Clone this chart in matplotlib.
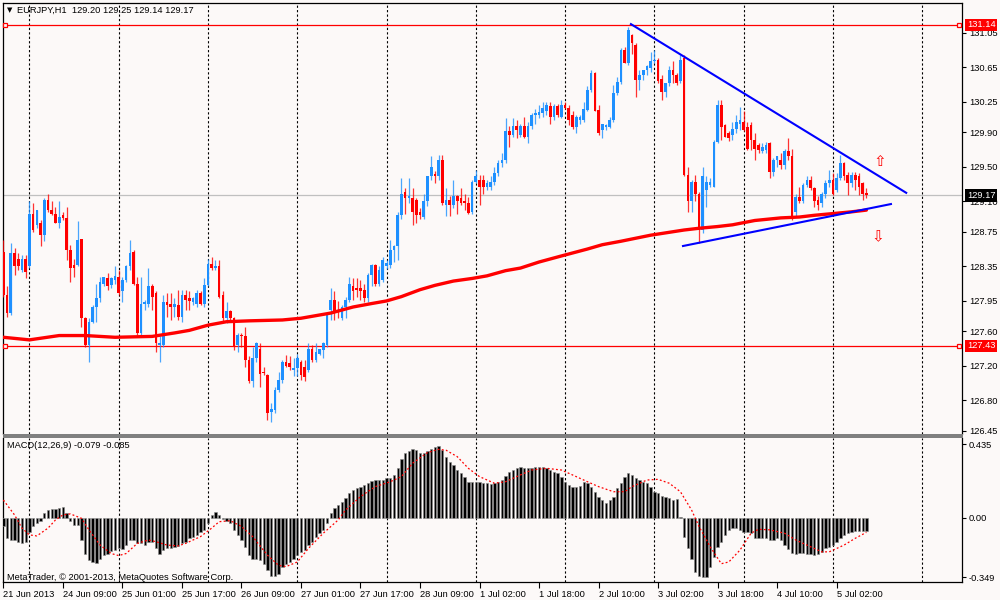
import numpy as np
import matplotlib
matplotlib.use("Agg")
import matplotlib.pyplot as plt
import matplotlib.transforms as mtransforms
from matplotlib.patches import Rectangle

plt.rcParams['font.family'] = ['Liberation Sans', 'DejaVu Sans']

# EURJPY H1 candles (bar index 0 = 21 Jun 17:00)
opens = [
    128.52, 128.02, 127.81, 128.50, 128.44, 128.31, 128.44, 128.35, 128.96, 128.83,
    128.85, 128.71, 129.12, 129.00, 128.96, 128.85, 128.94, 128.91, 128.54, 128.37,
    128.37, 128.67, 127.75, 127.44, 127.71, 127.88, 127.98, 128.15, 128.21, 128.13,
    128.19, 128.23, 128.06, 128.19, 128.35, 128.52, 128.15, 127.58, 127.92, 127.92,
    128.12, 128.04, 127.44, 127.44, 127.94, 127.92, 127.88, 127.90, 127.77, 128.02,
    127.98, 127.94, 127.92, 128.04, 127.92, 128.13, 128.38, 128.33, 128.35, 128.02,
    127.75, 127.83, 127.75, 127.44, 127.56, 127.54, 127.27, 127.02, 127.29, 127.40,
    127.13, 127.09, 126.67, 126.69, 126.92, 127.04, 127.24, 127.23, 127.15, 127.17,
    127.25, 127.19, 127.15, 127.40, 127.27, 127.34, 127.38, 127.44, 127.84, 127.96,
    127.85, 127.75, 127.88, 127.96, 128.12, 128.10, 128.10, 128.08, 127.98, 128.25,
    128.36, 128.15, 128.19, 128.35, 128.37, 128.54, 128.58, 128.94, 129.21, 129.14,
    129.14, 129.12, 128.98, 128.92, 129.10, 129.39, 129.42, 129.39, 129.58, 129.06,
    129.12, 129.06, 129.16, 129.14, 129.10, 129.08, 128.98, 129.33, 129.35, 129.35,
    129.27, 129.27, 129.33, 129.43, 129.54, 129.58, 129.91, 129.87, 129.97, 129.87,
    129.97, 129.85, 129.97, 130.10, 130.10, 130.12, 130.14, 130.20, 130.08, 130.20,
    130.08, 130.21, 130.18, 130.10, 129.96, 130.04, 130.04, 130.16, 130.39, 130.58,
    130.16, 129.93, 129.96, 129.96, 130.04, 130.35, 130.48, 130.85, 130.70, 131.02,
    130.91, 130.50, 130.56, 130.62, 130.64, 130.72, 130.74, 130.52, 130.37, 130.47,
    130.62, 130.56, 130.49, 130.76, 129.41, 129.10, 129.33, 129.19, 128.77, 129.23,
    129.29, 129.27, 129.79, 130.21, 129.98, 129.89, 129.87, 129.94, 130.00, 130.02,
    129.96, 129.98, 129.81, 129.75, 129.68, 129.70, 129.77, 129.44, 129.58, 129.58,
    129.52, 129.68, 129.62, 128.98, 129.15, 129.10, 129.29, 129.35, 129.25, 129.12,
    129.08, 129.19, 129.31, 129.35, 129.23, 129.37, 129.54, 129.41, 129.31, 129.41,
    129.39, 129.31, 129.20,
]
highs = [
    128.66, 128.12, 128.62, 128.56, 128.50, 128.48, 128.48, 129.10, 129.08, 129.00,
    128.89, 129.14, 129.19, 129.10, 129.04, 129.10, 128.98, 129.04, 128.60, 128.44,
    128.87, 128.67, 127.77, 127.75, 127.90, 128.15, 128.23, 128.23, 128.27, 128.23,
    128.35, 128.31, 128.23, 128.37, 128.66, 128.54, 128.23, 128.23, 127.96, 128.33,
    128.15, 128.06, 127.54, 128.02, 128.04, 128.04, 127.98, 128.08, 128.08, 128.08,
    128.06, 128.00, 128.08, 128.06, 128.21, 128.44, 128.46, 128.42, 128.42, 128.06,
    127.94, 127.85, 127.77, 127.58, 127.58, 127.65, 127.31, 127.42, 127.48, 127.46,
    127.19, 127.11, 126.77, 126.96, 127.13, 127.27, 127.32, 127.31, 127.29, 127.34,
    127.27, 127.27, 127.46, 127.44, 127.46, 127.40, 127.48, 127.81, 128.10, 128.06,
    127.95, 127.90, 128.00, 128.23, 128.21, 128.21, 128.19, 128.15, 128.27, 128.38,
    128.38, 128.35, 128.46, 128.42, 128.65, 128.60, 128.98, 129.37, 129.25, 129.37,
    129.25, 129.14, 129.02, 129.19, 129.40, 129.62, 129.45, 129.64, 129.64, 129.25,
    129.16, 129.35, 129.18, 129.25, 129.19, 129.15, 129.35, 129.46, 129.41, 129.41,
    129.35, 129.39, 129.50, 129.58, 129.66, 130.06, 129.97, 130.06, 130.04, 130.00,
    130.08, 130.02, 130.12, 130.17, 130.21, 130.25, 130.25, 130.25, 130.23, 130.23,
    130.27, 130.25, 130.21, 130.14, 130.10, 130.10, 130.25, 130.43, 130.62, 130.60,
    130.21, 130.00, 129.99, 130.08, 130.45, 130.54, 130.87, 130.89, 131.12, 131.04,
    130.93, 130.62, 130.62, 130.68, 130.83, 130.85, 130.76, 130.56, 130.47, 130.66,
    130.72, 130.58, 130.79, 130.79, 129.50, 129.35, 129.41, 129.21, 129.50, 129.39,
    129.37, 129.81, 130.27, 130.27, 130.00, 129.91, 130.02, 130.10, 130.19, 130.14,
    130.02, 130.02, 129.89, 129.78, 129.77, 129.79, 129.79, 129.60, 129.62, 129.66,
    129.71, 129.83, 129.71, 129.19, 129.27, 129.31, 129.39, 129.39, 129.27, 129.16,
    129.21, 129.35, 129.46, 129.43, 129.43, 129.64, 129.56, 129.44, 129.44, 129.44,
    129.43, 129.33, 129.25,
]
lows = [
    128.00, 127.77, 127.79, 128.25, 128.31, 128.29, 128.21, 128.33, 128.75, 128.79,
    128.58, 128.64, 128.98, 128.94, 128.85, 128.79, 128.89, 128.42, 128.17, 128.23,
    128.35, 127.65, 127.42, 127.25, 127.69, 127.71, 127.94, 128.12, 128.08, 128.10,
    128.15, 128.02, 127.94, 128.17, 128.31, 128.14, 127.56, 127.56, 127.85, 127.88,
    127.85, 127.36, 127.25, 127.42, 127.77, 127.73, 127.77, 127.73, 127.71, 127.85,
    127.85, 127.90, 127.88, 127.90, 127.88, 128.12, 128.31, 128.31, 127.98, 127.71,
    127.69, 127.73, 127.38, 127.36, 127.42, 127.19, 127.00, 126.96, 127.25, 126.96,
    127.09, 126.57, 126.55, 126.65, 126.90, 127.00, 127.19, 127.15, 127.08, 127.08,
    127.04, 127.02, 127.13, 127.25, 127.25, 127.33, 127.29, 127.42, 127.73, 127.73,
    127.75, 127.73, 127.75, 127.94, 127.96, 128.00, 127.96, 127.94, 127.94, 128.12,
    128.12, 128.12, 128.17, 128.32, 128.33, 128.40, 128.42, 128.90, 128.96, 129.08,
    128.83, 128.85, 128.90, 128.90, 129.05, 129.35, 129.31, 129.35, 129.06, 128.93,
    128.93, 129.02, 128.96, 129.06, 129.00, 128.96, 128.96, 129.31, 129.06, 129.19,
    129.23, 129.23, 129.29, 129.39, 129.50, 129.54, 129.73, 129.85, 129.83, 129.85,
    129.83, 129.77, 129.94, 130.00, 130.06, 130.08, 130.10, 130.00, 130.04, 130.08,
    130.06, 130.17, 129.98, 129.94, 129.89, 130.00, 130.02, 130.14, 130.37, 130.14,
    129.87, 129.83, 129.93, 129.95, 130.02, 130.33, 130.46, 130.70, 130.68, 130.81,
    130.31, 130.39, 130.50, 130.56, 130.60, 130.70, 130.47, 130.27, 130.31, 130.43,
    130.47, 130.45, 130.47, 129.39, 128.98, 128.98, 129.10, 128.62, 128.73, 129.04,
    129.27, 129.27, 129.77, 129.81, 129.85, 129.80, 129.81, 129.89, 129.93, 129.91,
    129.70, 129.70, 129.58, 129.66, 129.66, 129.66, 129.37, 129.39, 129.50, 129.48,
    129.48, 129.58, 128.89, 128.92, 129.08, 129.08, 129.27, 129.23, 129.04, 129.00,
    129.04, 129.14, 129.27, 129.17, 129.21, 129.35, 129.35, 129.17, 129.27, 129.23,
    129.17, 129.12, 129.14,
]
closes = [
    128.02, 127.81, 128.50, 128.35, 128.35, 128.44, 128.29, 128.96, 128.77, 129.00,
    128.71, 129.12, 129.00, 128.96, 128.85, 128.92, 128.91, 128.54, 128.33, 128.33,
    128.66, 127.75, 127.44, 127.71, 127.88, 127.98, 128.17, 128.23, 128.12, 128.21,
    128.24, 128.04, 128.19, 128.35, 128.50, 128.15, 127.58, 127.92, 127.94, 128.12,
    128.00, 127.46, 127.46, 127.94, 127.90, 127.88, 127.92, 127.77, 128.02, 127.96,
    127.95, 127.98, 128.04, 127.92, 128.13, 128.38, 128.33, 128.35, 128.00, 127.75,
    127.83, 127.75, 127.42, 127.56, 127.54, 127.27, 127.02, 127.29, 127.46, 127.11,
    127.12, 126.65, 126.70, 126.92, 127.04, 127.25, 127.20, 127.19, 127.17, 127.29,
    127.09, 127.07, 127.40, 127.27, 127.36, 127.39, 127.46, 127.81, 127.96, 127.83,
    127.82, 127.88, 127.96, 128.15, 128.06, 128.08, 128.06, 127.98, 128.25, 128.37,
    128.15, 128.31, 128.42, 128.39, 128.54, 128.58, 128.94, 129.19, 129.14, 129.16,
    128.98, 128.94, 128.94, 129.10, 129.39, 129.50, 129.39, 129.58, 129.08, 129.12,
    129.06, 129.16, 129.10, 129.08, 129.08, 128.97, 129.33, 129.39, 129.27, 129.27,
    129.31, 129.33, 129.43, 129.54, 129.58, 129.91, 129.87, 129.97, 129.93, 129.97,
    129.85, 129.97, 130.10, 130.12, 130.13, 130.18, 130.21, 130.08, 130.20, 130.10,
    130.21, 130.18, 130.04, 129.96, 130.08, 130.08, 130.17, 130.39, 130.58, 130.14,
    129.89, 130.00, 129.98, 130.04, 130.35, 130.48, 130.85, 130.70, 131.08, 130.93,
    130.50, 130.56, 130.62, 130.66, 130.72, 130.74, 130.49, 130.37, 130.47, 130.62,
    130.56, 130.47, 130.74, 129.41, 129.10, 129.33, 129.19, 128.77, 129.39, 129.33,
    129.33, 129.79, 130.21, 129.96, 129.85, 129.83, 129.94, 130.02, 130.04, 129.93,
    129.71, 129.81, 129.71, 129.70, 129.73, 129.75, 129.44, 129.58, 129.62, 129.52,
    129.68, 129.62, 128.92, 129.15, 129.10, 129.29, 129.35, 129.25, 129.10, 129.06,
    129.19, 129.31, 129.35, 129.19, 129.37, 129.54, 129.39, 129.31, 129.41, 129.35,
    129.27, 129.19, 129.17,
]

# moving average (thick red), sampled along the chart
ma_idx = [0, 7, 15, 22, 30, 40, 46, 50, 55, 60, 66, 75, 80, 84, 88, 94, 99, 103, 107,
          112, 116, 121, 126, 130, 135, 139, 144, 150, 157, 161, 166, 174, 183, 187,
          192, 196, 202, 209, 214, 218, 223, 228, 232]
ma_val = [127.53, 127.50, 127.55, 127.55, 127.53, 127.54, 127.58, 127.61, 127.67, 127.71,
          127.72, 127.73, 127.75, 127.78, 127.81, 127.88, 127.92, 127.95, 128.00, 128.08,
          128.13, 128.18, 128.21, 128.24, 128.30, 128.33, 128.40, 128.47, 128.55, 128.60,
          128.64, 128.71, 128.77, 128.79, 128.81, 128.83, 128.88, 128.91, 128.92, 128.94,
          128.96, 128.98, 129.00]

# MACD(12,26,9) main histogram per bar
macd_main = [
    -0.05, -0.12, -0.13, -0.13, -0.14, -0.145, -0.14, -0.08, -0.05, -0.03,
    -0.02, 0.03, 0.047, 0.053, 0.053, 0.059, 0.065, 0.028, -0.02, -0.04,
    -0.04, -0.13, -0.21, -0.25, -0.26, -0.264, -0.24, -0.22, -0.21, -0.195,
    -0.19, -0.18, -0.185, -0.16, -0.13, -0.13, -0.15, -0.15, -0.16, -0.14,
    -0.14, -0.18, -0.215, -0.19, -0.18, -0.18, -0.173, -0.165, -0.15, -0.14,
    -0.12, -0.11, -0.10, -0.08, -0.07, -0.03, 0.018, 0.035, 0.018, -0.008,
    -0.016, -0.03, -0.07, -0.10, -0.13, -0.17, -0.22, -0.24, -0.24, -0.25,
    -0.27, -0.31, -0.34, -0.34, -0.33, -0.29, -0.27, -0.26, -0.24, -0.22,
    -0.20, -0.19, -0.16, -0.14, -0.11, -0.09, -0.07, -0.03, 0.028, 0.061,
    0.077, 0.092, 0.116, 0.146, 0.165, 0.175, 0.185, 0.195, 0.205, 0.22,
    0.224, 0.224, 0.224, 0.234, 0.234, 0.254, 0.293, 0.346, 0.382, 0.396,
    0.405, 0.40, 0.386, 0.386, 0.397, 0.405, 0.417, 0.425, 0.40, 0.362,
    0.329, 0.313, 0.283, 0.264, 0.244, 0.214, 0.214, 0.21, 0.21, 0.209,
    0.205, 0.199, 0.205, 0.21, 0.224, 0.248, 0.274, 0.283, 0.297, 0.299,
    0.293, 0.293, 0.293, 0.299, 0.299, 0.299, 0.293, 0.283, 0.274, 0.264,
    0.244, 0.214, 0.195, 0.181, 0.181, 0.189, 0.214, 0.205, 0.185, 0.155,
    0.126, 0.106, 0.09, 0.106, 0.126, 0.175, 0.205, 0.244, 0.268, 0.254,
    0.234, 0.224, 0.214, 0.205, 0.185, 0.155, 0.146, 0.13, 0.126, 0.116,
    0.106, 0.11, 0.003, -0.11, -0.18, -0.24, -0.32, -0.34, -0.346, -0.346,
    -0.29, -0.23, -0.17, -0.14, -0.10, -0.07, -0.06, -0.06, -0.07, -0.08,
    -0.08, -0.09, -0.12, -0.12, -0.12, -0.12, -0.13, -0.13, -0.12, -0.13,
    -0.16, -0.185, -0.205, -0.21, -0.205, -0.205, -0.21, -0.215, -0.218, -0.21,
    -0.20, -0.18, -0.17, -0.16, -0.14, -0.12, -0.10, -0.09, -0.08, -0.077,
    -0.077, -0.075, -0.079,
]
# signal line (red dotted), sampled
sig_idx = [0, 3, 5, 7, 9, 12, 14, 16, 18, 21, 23, 26, 29, 31, 33, 36, 39, 41, 44, 47,
           49, 53, 56, 58, 61, 64, 67, 71, 74, 76, 79, 82, 86, 90, 92, 96, 100, 104,
           107, 110, 114, 117, 119, 122, 125, 128, 132, 135, 139, 142, 146, 150, 153,
           157, 160, 164, 167, 169, 173, 176, 179, 182, 185, 187, 190, 193, 195, 198,
           201, 203, 206, 210, 213, 217, 220, 222, 226, 229, 232]
sig_val = [0.106, 0.018, -0.06, -0.10, -0.106, -0.06, -0.012, 0.018, 0.024, -0.002,
           -0.07, -0.16, -0.21, -0.222, -0.21, -0.15, -0.13, -0.14, -0.16, -0.165,
           -0.15, -0.11, -0.06, -0.022, -0.016, -0.05, -0.11, -0.22, -0.28, -0.287,
           -0.26, -0.18, -0.09, -0.012, 0.047, 0.126, 0.185, 0.214, 0.244, 0.323,
           0.386, 0.405, 0.40, 0.362, 0.293, 0.244, 0.205, 0.214, 0.254, 0.283,
           0.293, 0.283, 0.254, 0.214, 0.185, 0.155, 0.155, 0.185, 0.224, 0.228,
           0.205, 0.155, 0.047, -0.05, -0.17, -0.27, -0.26, -0.19, -0.09, -0.067,
           -0.07, -0.09, -0.13, -0.17, -0.20, -0.20, -0.16, -0.12, -0.085]

# triangle drawn on the chart (bar index, price)
upper_line_x = [168.7, 242.7]
upper_line_y = [131.15, 129.20]
lower_line_x = [182.7, 238.6]
lower_line_y = [128.585, 129.07]

level_hi = 131.14
level_lo = 127.43
bid = 129.17

price_ticks = [131.05, 130.65, 130.25, 129.90, 129.50, 129.10, 128.75,
               128.35, 127.95, 127.60, 127.20, 126.80, 126.45]
macd_ticks = [0.435, 0.0, -0.349]
macd_tick_labels = ["0.435", "0.00", "-0.349"]
time_idx = [0, 16, 32, 48, 64, 80, 96, 112, 128, 144, 160, 176, 192, 208, 224]
time_labels = ["21 Jun 2013", "24 Jun 09:00", "25 Jun 01:00", "25 Jun 17:00",
               "26 Jun 09:00", "27 Jun 01:00", "27 Jun 17:00", "28 Jun 09:00",
               "1 Jul 02:00", "1 Jul 18:00", "2 Jul 10:00", "3 Jul 02:00",
               "3 Jul 18:00", "4 Jul 10:00", "5 Jul 02:00"]
grid_idx = [7, 31, 55, 79, 103, 127, 151, 175, 199, 223, 247]

BG = "#fcf9f8"
BULL = "#1e90ff"
BEAR = "#ff0000"
FS = 6.7
XMIN, XMAX = -0.1, 257.7

fig = plt.figure(figsize=(10, 6), dpi=100, facecolor=BG)
ax = fig.add_axes([0.003, 1 - 434 / 600, 0.959, 431 / 600], facecolor=BG)
axm = fig.add_axes([0.003, 1 - 582 / 600, 0.959, 144 / 600], facecolor=BG)

o = np.array(opens)
h = np.array(highs)
l = np.array(lows)
c = np.array(closes)
x = np.arange(len(c))
up = c >= o
col = np.where(up, BULL, BEAR)

ax.vlines(x, l, h, colors=col, linewidth=0.9, alpha=0.8, zorder=3)
body_lo = np.minimum(o, c)
body_h = np.maximum(np.abs(c - o), 0.012)
ax.bar(x, body_h, bottom=body_lo, width=0.72, color=col, linewidth=0, zorder=4)

ax.plot(ma_idx, ma_val, color=BEAR, linewidth=2.4, solid_capstyle="round",
        solid_joinstyle="round", zorder=5)
ax.plot(upper_line_x, upper_line_y, color="#0000ff", linewidth=1.5, zorder=6)
ax.plot(lower_line_x, lower_line_y, color="#0000ff", linewidth=1.5, zorder=6)

ax.axhline(level_hi, color=BEAR, linewidth=0.9, zorder=2)
ax.axhline(level_lo, color=BEAR, linewidth=0.9, zorder=2)
ax.axhline(bid, color="#c0c0c0", linewidth=0.9, zorder=1)
for lv in (level_hi, level_lo):
    ax.plot([0.5, 256.9], [lv, lv], linestyle="none", marker="s", markersize=3.5,
            markerfacecolor=BG, markeredgecolor=BEAR, markeredgewidth=0.9,
            clip_on=False, zorder=7)

ax.text(235.7, 129.56, "\u21e7", color=BEAR, fontsize=11, ha="center", va="center",
        family="DejaVu Sans")
ax.text(235.1, 128.69, "\u21e9", color=BEAR, fontsize=11, ha="center", va="center",
        family="DejaVu Sans")

for a in (ax, axm):
    for g in grid_idx:
        a.axvline(g, color="black", linewidth=0.8, linestyle=(0, (2, 2)), zorder=0)
    a.set_xlim(XMIN, XMAX)
    for s in a.spines.values():
        s.set_color("black")
        s.set_linewidth(0.9)
    a.yaxis.tick_right()
    a.tick_params(axis="y", direction="out", length=3, width=0.8, pad=2,
                  labelsize=FS, colors="black")

ax.set_ylim(126.412, 131.394)
ax.set_yticks(price_ticks)
ax.set_yticklabels([f"{t:.2f}" for t in price_ticks])
ax.set_xticks([])
ax.spines["bottom"].set_visible(False)

trans = mtransforms.blended_transform_factory(ax.transAxes, ax.transData)
for val, fc in ((level_hi, BEAR), (bid, "black"), (level_lo, BEAR)):
    ax.text(1.005, val, f"{val:.2f}", transform=trans, color="white", fontsize=FS,
            ha="left", va="center", zorder=10,
            bbox=dict(boxstyle="square,pad=0.2", facecolor=fc, edgecolor="none"))

# MACD panel
axm.bar(x, macd_main, width=0.62, color="black", edgecolor="#8a8a8a",
        linewidth=0.4, zorder=3)
axm.plot(sig_idx, sig_val, color=BEAR, linewidth=0.9, linestyle=(0, (1.5, 1.8)), zorder=4)
axm.set_ylim(-0.378, 0.472)
axm.set_yticks(macd_ticks)
axm.set_yticklabels(macd_tick_labels)
axm.spines["top"].set_visible(False)
axm.set_xticks(time_idx)
axm.set_xticklabels(time_labels, ha="left")
axm.tick_params(axis="x", direction="out", length=4, width=0.8, pad=2,
                labelsize=FS, colors="black")

# thick gray separator between the panels
fig.patches.append(Rectangle((0.003, 1 - 438 / 600), 0.960, 4 / 600,
                             transform=fig.transFigure, facecolor="#808080",
                             edgecolor="none", zorder=5))

fig.text(0.007, 1 - 10 / 600, "\u25bc", fontsize=5, va="center", ha="left",
         family="DejaVu Sans")
fig.text(0.017, 1 - 10 / 600, "EURJPY,H1  129.20 129.25 129.14 129.17",
         fontsize=FS, va="center", ha="left")
fig.text(0.007, 1 - 446 / 600, "MACD(12,26,9) -0.079 -0.085",
         fontsize=FS, va="center", ha="left")
fig.text(0.007, 1 - 577 / 600, "MetaTrader, \u00a9 2001-2013, MetaQuotes Software Corp.",
         fontsize=FS, va="center", ha="left")

fig.savefig("out.png", dpi=100, facecolor=BG)
